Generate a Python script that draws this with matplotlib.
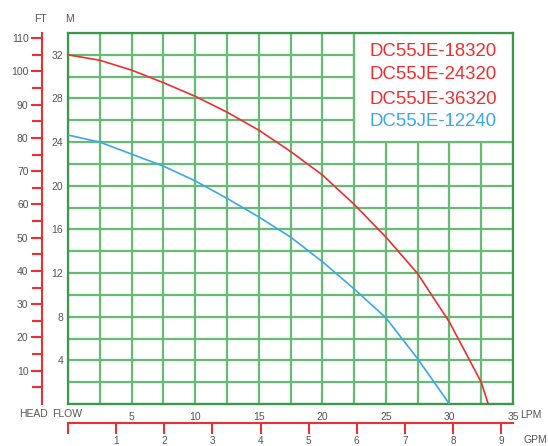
import matplotlib
matplotlib.use("Agg")
import matplotlib.pyplot as plt
from matplotlib.patches import Rectangle
import numpy as np

plt.rcParams['font.family'] = ['Liberation Sans', 'DejaVu Sans']

# ---- data ----
red_lpm = [0, 2.5, 5, 7.5, 10, 12.5, 15, 17.5, 20, 22.5, 25, 27.5, 30, 32.5, 33.05]
red_m = [32.0, 31.5, 30.6, 29.45, 28.2, 26.75, 25.1, 23.15, 21.0, 18.3, 15.3, 11.95, 7.5, 2.0, 0.0]
blue_lpm = [0, 2.5, 5, 7.5, 10, 12.5, 15, 17.5, 20, 22.5, 25, 27.5, 30]
blue_m = [24.65, 24.0, 22.9, 21.8, 20.45, 18.85, 17.15, 15.3, 13.05, 10.55, 7.9, 4.15, 0.0]
legend_labels = ["DC55JE-18320", "DC55JE-24320", "DC55JE-36320", "DC55JE-12240"]
lpm_ticks = [5, 10, 15, 20, 25, 30, 35]
m_ticks = [4, 8, 12, 16, 20, 24, 28, 32]
ft_ticks = [10, 20, 30, 40, 50, 60, 70, 80, 90, 100, 110]
gpm_ticks = [0, 1, 2, 3, 4, 5, 6, 7, 8, 9]
gpm_labels = ['', '1', '2', '3', '4', '5', '6', '7', '8', '9']

RED = '#ec2f32'
BLUE = '#3ba8ea'
GRID = '#66bc75'
BORDER = '#3a9a4a'
TXT = '#555555'

W, H = 548, 446
fig = plt.figure(figsize=(W / 100, H / 100), dpi=100)
fig.patch.set_facecolor('white')

L, R, T, B = 68, 513, 33, 404
ax = fig.add_axes([L / W, 1 - B / H, (R - L) / W, (B - T) / H])
ax.set_xlim(0, 35)
ax.set_ylim(0, 34)
ax.set_axisbelow(True)
ax.set_xticks(lpm_ticks)
ax.set_xticks(np.arange(0, 35.01, 2.5), minor=True)
ax.set_yticks(m_ticks)
ax.set_yticks(np.arange(0, 34.01, 2), minor=True)
ax.grid(True, which='both', color=GRID, lw=1.6)
ax.tick_params(which='both', length=0, labelsize=7.5, labelcolor=TXT)
ax.tick_params(axis='x', pad=5.5)
ax.tick_params(axis='y', pad=3.5)
for s in ax.spines.values():
    s.set_color(BORDER)
    s.set_linewidth(1.6)

ax.add_patch(Rectangle((22.5, 24), 12.5, 10, facecolor='white',
                       edgecolor=GRID, lw=1.6, zorder=1))

ax.plot(red_lpm, red_m, color=RED, lw=1.2, zorder=3, solid_joinstyle='round')
ax.plot(blue_lpm, blue_m, color=BLUE, lw=1.2, zorder=3, solid_joinstyle='round')

leg_y = [32.26, 30.16, 27.95, 25.85]
leg_c = [RED, RED, RED, BLUE]
for lab, yy, cc in zip(legend_labels, leg_y, leg_c):
    ax.text(23.75, yy, lab, color=cc, fontsize=13.4, ha='left', va='center', zorder=4)

# ---- FT axis ----
axf = fig.add_axes([41.7 / W, 1 - B / H, 0.0005, (B - T) / H])
axf.set_facecolor('none')
axf.set_ylim(0, 34 / 0.3048)
for k in ['top', 'right', 'bottom']:
    axf.spines[k].set_visible(False)
axf.spines['left'].set_color(RED)
axf.spines['left'].set_linewidth(1.5)
axf.set_xticks([])
axf.set_yticks(ft_ticks)
axf.set_yticks(np.arange(5, 106, 10), minor=True)
axf.tick_params(axis='y', which='major', length=8, width=1.5, color=RED,
                labelsize=7.5, labelcolor=TXT, pad=1.5)
axf.tick_params(axis='y', which='minor', length=7.5, width=1.5, color=RED)

# ---- GPM axis ----
axg = fig.add_axes([L / W, 1 - 423 / H, (R - L) / W, 0.0005])
axg.set_facecolor('none')
axg.set_xlim(0, 35 / 3.78541)
for k in ['top', 'right', 'left']:
    axg.spines[k].set_visible(False)
axg.spines['bottom'].set_color(RED)
axg.spines['bottom'].set_linewidth(1.5)
axg.set_yticks([])
axg.set_xticks(gpm_ticks)
axg.set_xticklabels(gpm_labels)
axg.tick_params(axis='x', length=8, width=1.5, color=RED, labelsize=7.2,
                labelcolor=TXT, pad=1.0)

def ftext(x, y, s, ha='center'):
    fig.text(x / W, 1 - y / H, s, ha=ha, va='center', fontsize=7.5, color=TXT)

ftext(40, 19, "FT")
ftext(70, 19, "M")
ftext(33, 414, "HEAD")
ftext(67.5, 414, "FLOW")
ftext(520, 415, "LPM", ha='left')
ftext(523, 440, "GPM", ha='left')

fig.savefig('out.png', dpi=100, facecolor='white')
